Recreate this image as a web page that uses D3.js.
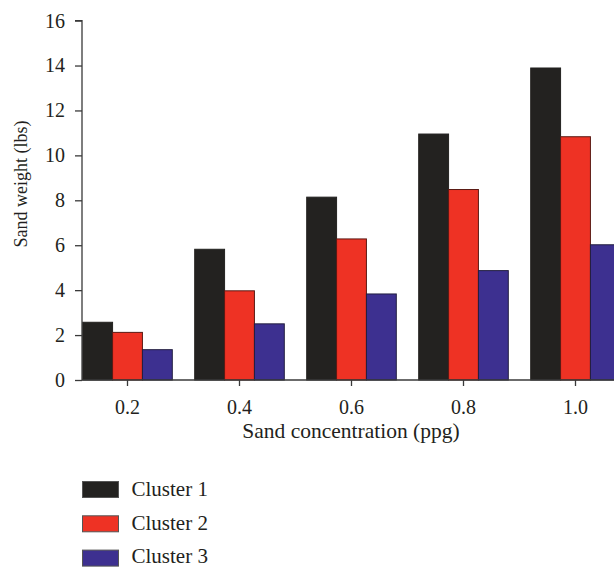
<!DOCTYPE html>
<html><head><meta charset="utf-8">
<script src="https://cdn.jsdelivr.net/npm/d3@7"></script>
<style>body{margin:0;background:#fff}svg{display:block}text{font-family:"Liberation Serif","DejaVu Serif",serif;fill:#231f20}</style>
</head><body><svg id="c" width="614" height="567"></svg>
<script>
const categories = ["0.2","0.4","0.6","0.8","1.0"];
const seriesNames = ["Cluster 1","Cluster 2","Cluster 3"];
const cluster1 = [2.57, 5.82, 8.14, 10.95, 13.89];
const cluster2 = [2.12, 3.97, 6.28, 8.48, 10.83];
const cluster3 = [1.35, 2.50, 3.83, 4.87, 6.02];
const yTicks = [0,2,4,6,8,10,12,14,16];
const colors = ["#232220","#ee3224","#3d3090"];
const strokes = ["#232220","#5a1a14","#231f40"];

const series = [cluster1, cluster2, cluster3];
const svg = d3.select("#c");
const axisX = 82, y0 = 380, yTop = 20.6;
const y = d3.scaleLinear().domain([0,16]).range([y0, yTop]);
const x = d3.scaleBand().domain(categories).range([axisX - 11.2 + 0.7, axisX - 11.2 + 0.7 + 560]).paddingInner(0.2).paddingOuter(0.1);
const xs = d3.scaleBand().domain(seriesNames).range([0, x.bandwidth()]);

// bars
const g = svg.append("g");
categories.forEach((c, i) => {
  series.forEach((s, k) => {
    g.append("rect")
      .attr("x", x(c) + xs(seriesNames[k]))
      .attr("y", y(s[i]))
      .attr("width", xs.bandwidth())
      .attr("height", y0 - y(s[i]))
      .attr("fill", colors[k])
      .attr("stroke", strokes[k]).attr("stroke-width", 1);
  });
});

// y axis
const ya = svg.append("g").attr("transform", `translate(${axisX},0)`)
  .call(d3.axisLeft(y).tickValues(yTicks).tickSize(7).tickPadding(10).tickFormat(d3.format("d")));
ya.select(".domain").attr("stroke","#3a3a3a").attr("stroke-width",1.3).attr("d", `M-7,${yTop}H0V${y0}`);
ya.selectAll(".tick line").attr("stroke","#3a3a3a").attr("stroke-width",1.3);
ya.selectAll("text").style("font-size","20px").style("font-family","'Liberation Serif',serif").attr("fill","#231f20");

// x axis
const xa = svg.append("g").attr("transform", `translate(0,${y0})`)
  .call(d3.axisBottom(x).tickSize(6).tickSizeOuter(0));
xa.select(".domain").attr("stroke","#3a3a3a").attr("stroke-width",1.3).attr("d", `M${axisX},0H614`);
xa.selectAll(".tick line").attr("stroke","#3a3a3a").attr("stroke-width",1.3);
xa.selectAll("text").attr("y", 34).attr("dy", null).style("font-size","20px").style("font-family","'Liberation Serif',serif").attr("fill","#231f20");

// axis titles
svg.append("text").attr("x", 351).attr("y", 438).attr("text-anchor","middle")
  .style("font-size","21.5px").text("Sand concentration (ppg)");
svg.append("text").attr("transform", "translate(27,184) rotate(-90)").attr("text-anchor","middle")
  .style("font-size","18px").text("Sand weight (lbs)");

// legend
const lg = svg.append("g");
seriesNames.forEach((n, k) => {
  const ly = 481.5 + k * 34.3;
  lg.append("rect").attr("x", 82.5).attr("y", ly).attr("width", 36).attr("height", 16)
    .attr("fill", colors[k]).attr("stroke", "#555").attr("stroke-width", 1);
  lg.append("text").attr("x", 131.5).attr("y", ly + 14.5 - k * 0.8).style("font-size","21px").text(n);
});
</script></body></html>
